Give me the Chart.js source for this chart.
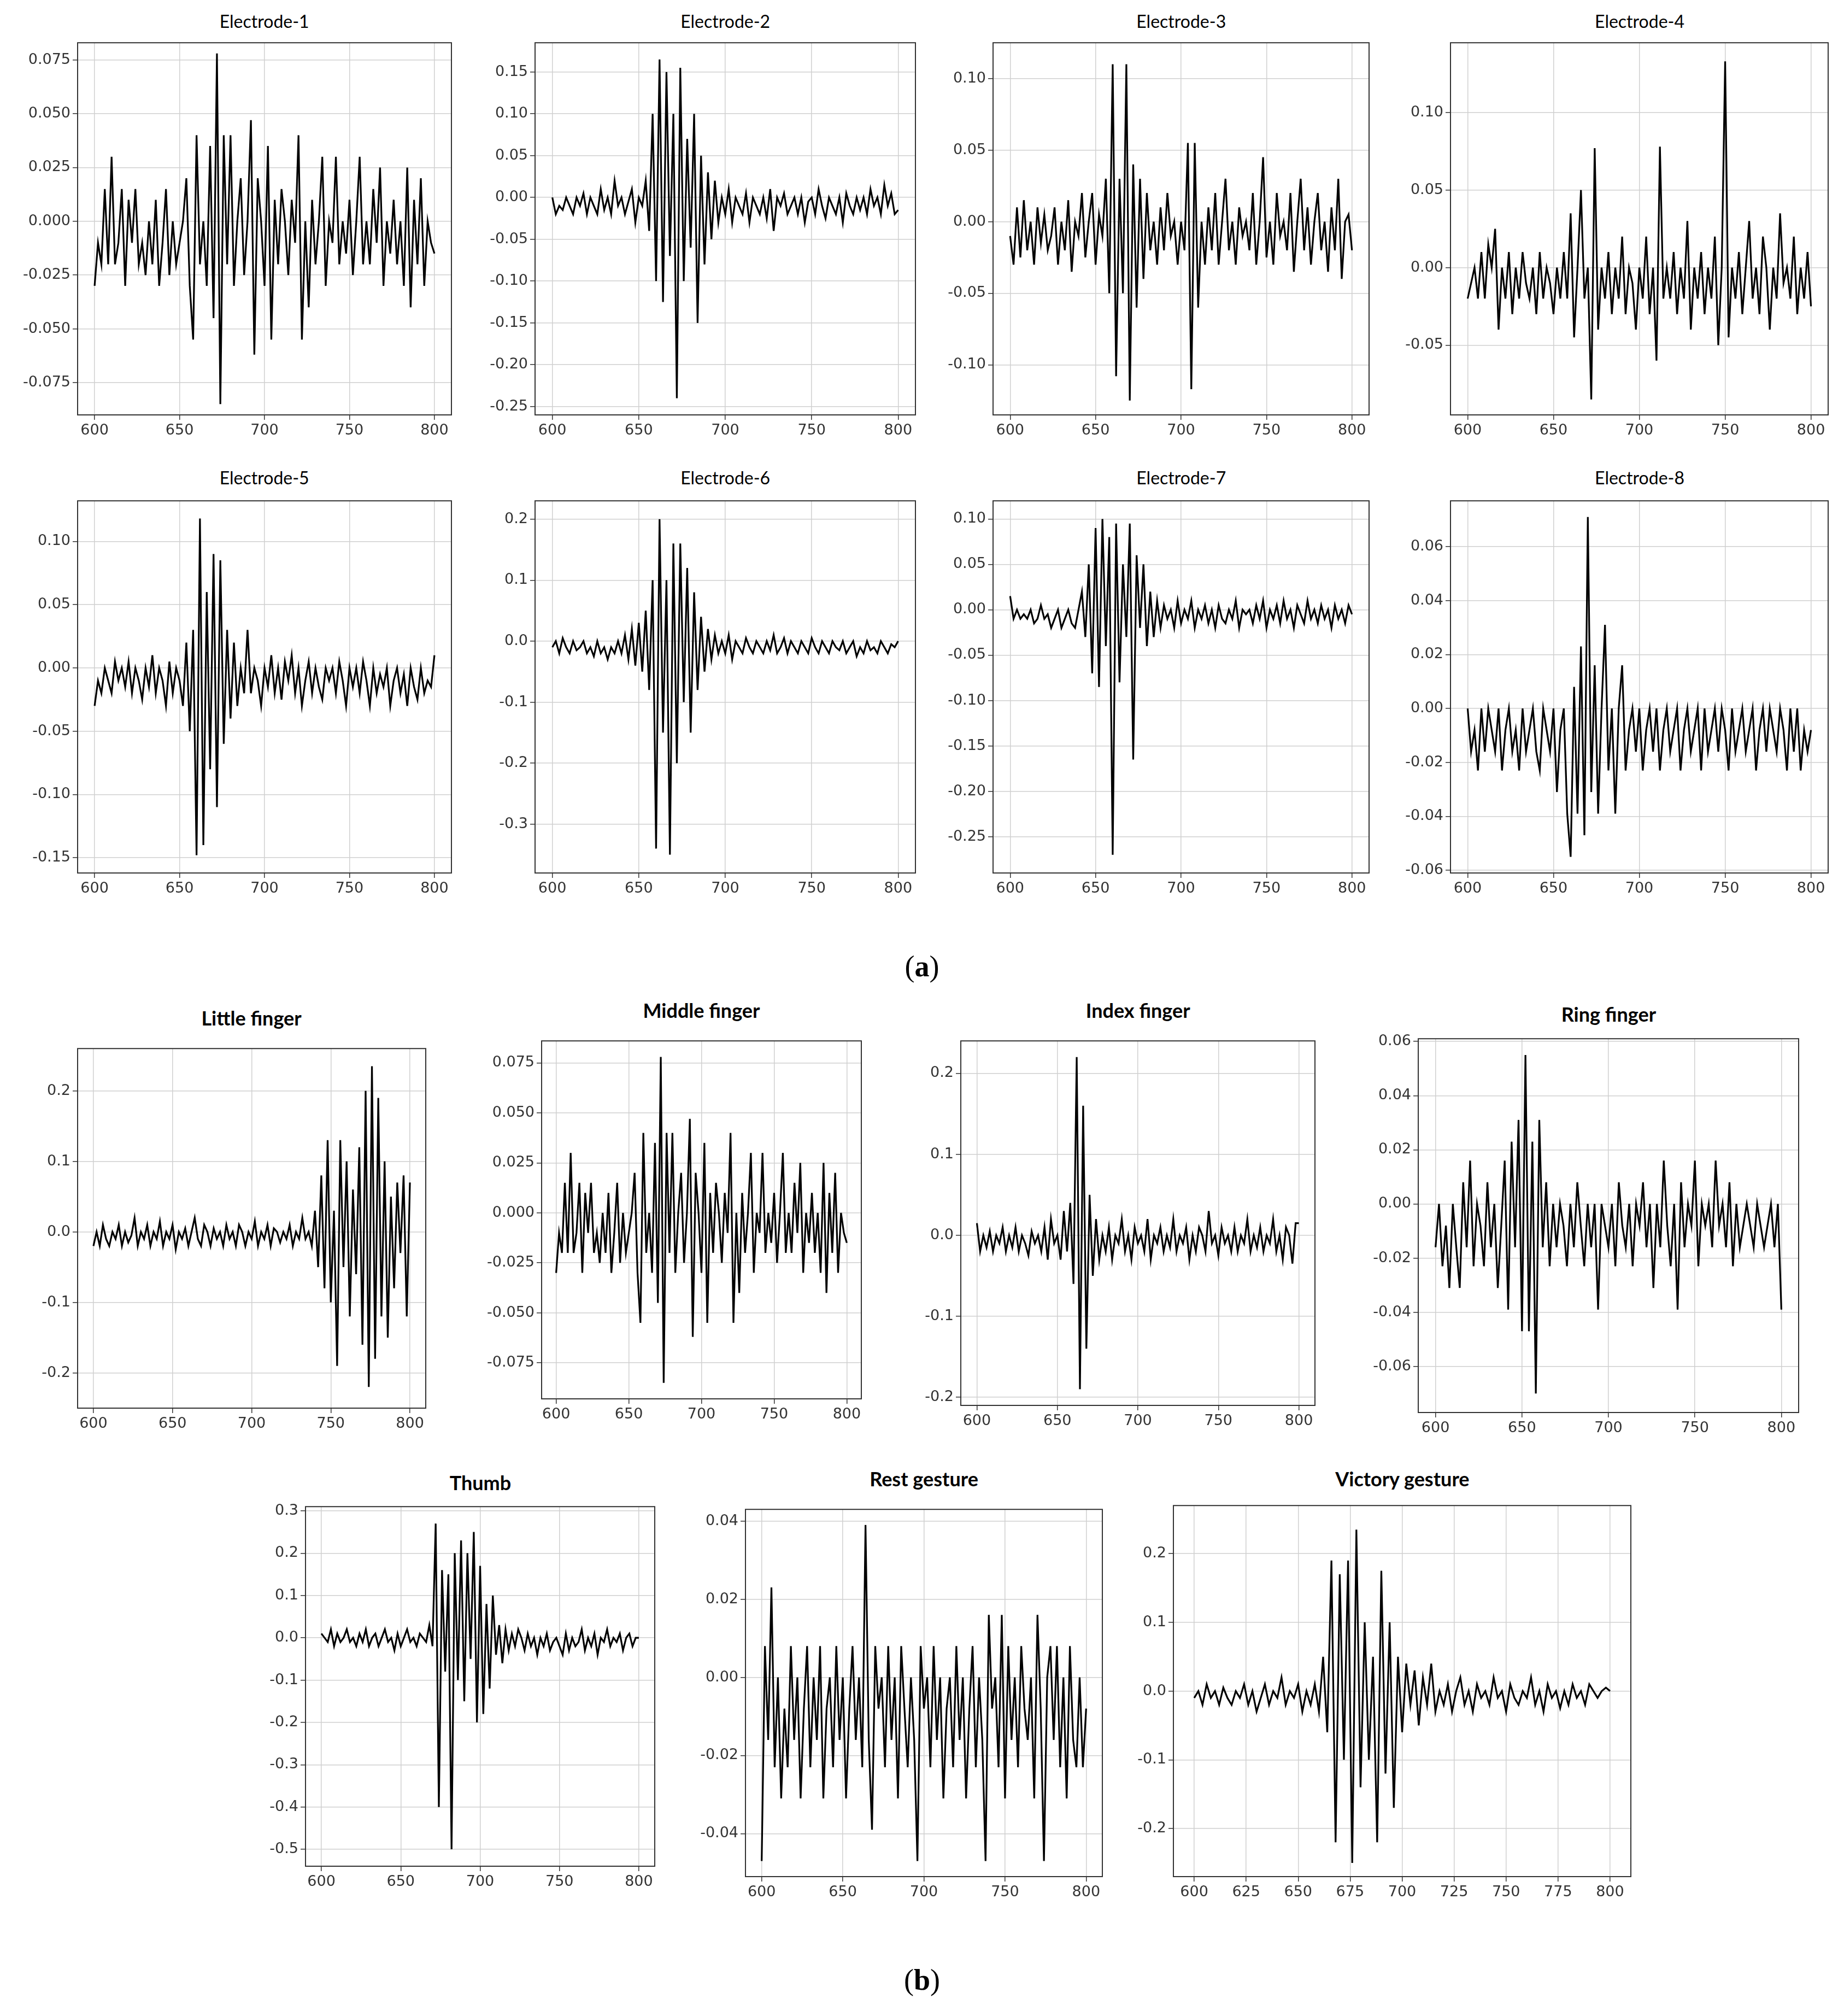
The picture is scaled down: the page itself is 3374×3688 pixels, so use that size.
<!DOCTYPE html>
<html><head><meta charset="utf-8">
<script src="https://cdn.jsdelivr.net/npm/chart.js@4/dist/chart.umd.min.js"></script>
<style>
body{margin:0;background:#fff;width:3374px;height:3688px;position:relative;overflow:hidden}
.box{position:absolute}
.t{position:absolute;transform:translateX(-50%);white-space:nowrap;color:#000}
.lab{position:absolute;transform:translateX(-50%);font-family:"Liberation Serif",serif;font-size:54px}
</style></head><body>
<script>
// ---- data (values sampled uniformly from x=600 to x=800) ----
const electrode1=[-0.03,-0.01,-0.02,0.015,-0.02,0.03,-0.02,-0.01,0.015,-0.03,0.01,-0.01,0.015,-0.02,-0.01,-0.025,0.0,-0.02,0.01,-0.03,-0.01,0.015,-0.025,0.0,-0.02,-0.01,0.0,0.02,-0.03,-0.055,0.04,-0.02,0.0,-0.03,0.035,-0.045,0.078,-0.085,0.04,-0.02,0.04,-0.03,0.0,0.02,-0.025,0.0,0.047,-0.062,0.02,0.0,-0.03,0.035,-0.055,0.01,-0.02,0.015,0.0,-0.025,0.01,-0.01,0.04,-0.055,0.0,-0.04,0.01,-0.02,0.0,0.03,-0.03,0.0,-0.01,0.03,-0.02,0.0,-0.015,0.01,-0.025,0.0,0.03,-0.02,0.0,-0.02,0.015,-0.01,0.025,-0.03,0.0,-0.015,0.01,-0.02,0.0,-0.03,0.025,-0.04,0.01,-0.02,0.02,-0.03,0.0,-0.01,-0.015];
const electrode2=[0.0,-0.02,-0.01,-0.015,0.0,-0.01,-0.02,0.0,-0.01,0.005,-0.02,0.0,-0.01,-0.02,0.01,-0.015,0.0,-0.02,0.02,-0.01,0.0,-0.02,-0.005,0.01,-0.03,0.0,-0.01,0.02,-0.04,0.1,-0.1,0.165,-0.125,0.15,-0.07,0.1,-0.24,0.155,-0.1,0.07,-0.06,0.1,-0.15,0.05,-0.08,0.03,-0.05,0.02,-0.03,0.0,-0.02,0.01,-0.03,0.0,-0.01,-0.02,0.005,-0.03,0.0,-0.01,-0.02,0.0,-0.025,0.01,-0.04,0.0,-0.01,0.005,-0.02,-0.01,0.0,-0.02,0.0,-0.03,-0.005,0.0,-0.02,0.01,-0.01,-0.025,0.0,-0.01,-0.02,0.0,-0.03,0.005,-0.01,-0.02,0.0,-0.015,0.0,-0.02,0.01,-0.01,0.0,-0.02,0.015,-0.01,0.005,-0.02,-0.015];
const electrode3=[-0.01,-0.03,0.01,-0.025,0.015,-0.02,0.0,-0.03,0.01,-0.015,0.005,-0.02,-0.01,0.01,-0.03,0.0,-0.02,0.015,-0.035,0.0,-0.01,0.02,-0.025,0.0,0.02,-0.03,0.005,-0.01,0.03,-0.05,0.11,-0.108,0.03,-0.05,0.11,-0.125,0.04,-0.06,0.03,-0.04,0.02,-0.02,0.0,-0.03,0.01,-0.02,0.02,-0.01,0.0,-0.03,0.0,-0.02,0.055,-0.117,0.055,-0.06,0.0,-0.03,0.01,-0.02,0.02,-0.03,0.0,0.03,-0.02,0.0,-0.03,0.01,-0.01,0.0,-0.02,0.02,-0.03,0.0,0.045,-0.025,0.0,-0.03,0.02,-0.01,0.0,-0.02,0.02,-0.035,0.0,0.03,-0.02,0.01,-0.03,0.0,0.02,-0.02,0.0,-0.035,0.01,-0.02,0.03,-0.04,0.0,0.005,-0.02];
const electrode4=[-0.02,-0.01,0.0,-0.02,0.01,-0.02,0.015,0.0,0.025,-0.04,0.0,-0.02,0.01,-0.03,0.0,-0.02,0.01,-0.01,-0.02,0.0,-0.03,0.01,-0.02,0.0,-0.01,-0.03,0.0,-0.02,0.01,-0.02,0.035,-0.045,0.0,0.05,-0.02,0.0,-0.085,0.077,-0.04,0.0,-0.02,0.01,-0.03,0.0,-0.02,0.02,-0.03,0.0,-0.01,-0.04,0.0,-0.02,0.02,-0.03,0.0,-0.06,0.078,-0.02,0.0,-0.02,0.01,-0.03,0.0,-0.02,0.03,-0.04,0.0,-0.02,0.01,-0.03,0.0,-0.02,0.02,-0.05,0.0,0.133,-0.045,0.0,-0.02,0.01,-0.03,0.0,0.03,-0.02,0.0,-0.03,0.02,0.0,-0.04,0.0,-0.02,0.035,-0.01,0.0,-0.02,0.02,-0.03,0.0,-0.02,0.01,-0.025];
const electrode5=[-0.03,-0.01,-0.02,0.0,-0.01,-0.02,0.005,-0.01,0.0,-0.015,0.005,-0.02,0.0,-0.01,-0.025,0.0,-0.015,0.01,-0.02,0.0,-0.01,-0.03,0.005,-0.02,0.0,-0.01,-0.03,0.02,-0.05,0.03,-0.148,0.118,-0.14,0.06,-0.08,0.09,-0.11,0.085,-0.06,0.03,-0.04,0.02,-0.03,0.0,-0.02,0.03,-0.02,0.0,-0.01,-0.03,0.0,-0.015,0.01,-0.02,0.0,-0.025,0.005,-0.01,0.01,-0.02,0.0,-0.03,-0.01,0.005,-0.02,0.0,-0.015,-0.025,0.0,-0.01,0.0,-0.02,0.005,-0.01,-0.03,0.0,-0.015,0.0,-0.02,0.005,-0.01,-0.03,0.0,-0.02,-0.005,-0.015,0.0,-0.03,-0.01,0.0,-0.02,-0.005,-0.03,0.0,-0.015,-0.025,0.0,-0.02,-0.01,-0.015,0.01];
const electrode6=[-0.01,0.0,-0.02,0.005,-0.01,-0.02,0.0,-0.015,-0.01,0.0,-0.02,-0.01,-0.025,0.0,-0.02,-0.01,-0.03,-0.01,-0.02,0.0,-0.02,0.01,-0.03,0.02,-0.04,0.03,-0.05,0.05,-0.08,0.1,-0.34,0.2,-0.15,0.1,-0.35,0.16,-0.2,0.16,-0.1,0.12,-0.15,0.08,-0.08,0.04,-0.05,0.02,-0.03,0.01,-0.02,0.0,-0.02,0.01,-0.03,0.0,-0.01,-0.02,0.005,-0.01,-0.02,0.0,-0.01,-0.02,0.0,-0.015,0.01,-0.02,-0.01,0.005,-0.02,0.0,-0.01,-0.02,0.0,-0.01,-0.02,0.005,-0.01,-0.02,0.0,-0.01,-0.02,0.0,-0.01,-0.015,0.0,-0.02,-0.01,0.0,-0.025,-0.01,-0.02,0.0,-0.015,-0.01,-0.02,0.0,-0.01,-0.02,-0.005,-0.01,0.0];
const electrode7=[0.015,-0.01,0.0,-0.01,-0.005,-0.01,0.0,-0.015,-0.01,0.005,-0.01,-0.005,-0.02,-0.01,0.0,-0.02,-0.01,0.0,-0.015,-0.02,0.0,0.02,-0.03,0.05,-0.07,0.09,-0.085,0.1,-0.04,0.08,-0.27,0.095,-0.08,0.05,-0.03,0.095,-0.165,0.06,-0.02,0.05,-0.04,0.02,-0.03,0.01,-0.02,0.005,-0.01,0.0,-0.02,0.01,-0.015,0.0,-0.01,0.01,-0.02,0.0,-0.01,0.005,-0.015,0.0,-0.02,0.005,-0.01,-0.015,0.0,-0.01,0.01,-0.02,0.0,-0.005,0.0,-0.015,0.005,-0.01,0.01,-0.02,0.0,-0.01,0.005,-0.015,0.01,-0.01,0.0,-0.02,0.005,-0.005,-0.015,0.01,-0.01,0.0,-0.015,0.005,-0.01,0.0,-0.02,0.005,-0.01,0.0,-0.015,0.005,-0.005];
const electrode8=[0.0,-0.016,-0.008,-0.023,0.0,-0.016,0.0,-0.008,-0.016,0.0,-0.023,-0.008,0.0,-0.016,-0.008,-0.023,0.0,-0.016,-0.008,0.0,-0.016,-0.023,0.0,-0.008,-0.016,0.0,-0.031,-0.008,0.0,-0.039,-0.055,0.008,-0.039,0.023,-0.047,0.071,-0.031,0.016,-0.039,0.0,0.031,-0.023,0.0,-0.039,0.0,0.016,-0.023,-0.008,0.0,-0.016,0.0,-0.023,-0.008,0.0,-0.016,0.0,-0.023,-0.008,0.0,-0.016,-0.008,0.0,-0.023,-0.008,0.0,-0.016,-0.008,0.0,-0.023,0.0,-0.016,-0.008,0.0,-0.016,0.0,-0.008,-0.023,0.0,-0.016,-0.008,0.0,-0.016,-0.008,0.0,-0.023,-0.008,0.0,-0.016,0.0,-0.008,-0.016,0.0,-0.008,-0.023,0.0,-0.016,0.0,-0.023,-0.008,-0.016,-0.008];
const littleFinger=[-0.02,0.0,-0.02,0.01,-0.01,-0.02,0.0,-0.01,0.01,-0.02,0.0,-0.015,-0.005,0.02,-0.02,0.0,-0.01,0.01,-0.02,0.0,-0.01,0.015,-0.02,0.0,-0.01,0.01,-0.025,0.0,-0.01,0.005,-0.02,0.0,0.02,-0.01,-0.02,0.01,0.0,-0.02,0.005,-0.01,0.0,-0.02,0.01,-0.01,0.0,-0.02,0.01,0.0,-0.02,0.0,-0.01,0.015,-0.02,0.0,-0.01,0.01,-0.02,0.005,0.0,-0.015,0.0,-0.01,0.01,-0.02,0.0,-0.01,0.02,-0.01,0.0,-0.02,0.03,-0.05,0.08,-0.08,0.13,-0.1,0.03,-0.19,0.13,-0.05,0.1,-0.12,0.06,-0.06,0.12,-0.16,0.2,-0.22,0.235,-0.18,0.19,-0.12,0.1,-0.15,0.05,-0.08,0.07,-0.03,0.08,-0.12,0.07];
const middleFinger=[-0.03,-0.01,-0.02,0.015,-0.02,0.03,-0.02,-0.01,0.015,-0.03,0.01,-0.01,0.015,-0.02,-0.01,-0.025,0.0,-0.02,0.01,-0.03,-0.01,0.015,-0.025,0.0,-0.02,-0.01,0.0,0.02,-0.03,-0.055,0.04,-0.02,0.0,-0.03,0.035,-0.045,0.078,-0.085,0.04,-0.02,0.04,-0.03,0.0,0.02,-0.025,0.0,0.047,-0.062,0.02,0.0,-0.03,0.035,-0.055,0.01,-0.02,0.015,0.0,-0.025,0.01,-0.01,0.04,-0.055,0.0,-0.04,0.01,-0.02,0.0,0.03,-0.03,0.0,-0.01,0.03,-0.02,0.0,-0.015,0.01,-0.025,0.0,0.03,-0.02,0.0,-0.02,0.015,-0.01,0.025,-0.03,0.0,-0.015,0.01,-0.02,0.0,-0.03,0.025,-0.04,0.01,-0.02,0.02,-0.03,0.0,-0.01,-0.015];
const indexFinger=[0.015,-0.02,0.0,-0.015,0.005,-0.02,0.0,-0.01,0.01,-0.02,0.0,-0.015,0.01,-0.02,0.0,-0.01,-0.025,0.005,-0.01,0.0,-0.02,0.01,-0.03,0.02,-0.01,0.0,-0.03,0.03,-0.02,0.04,-0.06,0.22,-0.19,0.16,-0.14,0.05,-0.05,0.02,-0.03,0.0,-0.02,0.01,-0.03,0.0,-0.01,0.02,-0.02,0.0,-0.03,0.01,-0.01,0.0,-0.02,0.02,-0.03,0.0,-0.01,0.01,-0.02,0.0,-0.015,0.02,-0.02,0.0,-0.01,0.01,-0.03,0.0,-0.02,0.01,0.0,-0.02,0.03,-0.01,0.0,-0.025,0.01,-0.01,0.0,-0.02,0.01,-0.02,0.0,-0.01,0.02,-0.02,0.0,-0.015,0.01,-0.02,0.0,-0.01,0.02,-0.02,0.0,-0.03,0.01,0.0,-0.035,0.015,0.015];
const ringFinger=[-0.016,0.0,-0.023,-0.008,-0.031,0.0,-0.016,-0.031,0.008,-0.016,0.016,-0.023,0.0,-0.008,-0.023,0.008,-0.016,0.0,-0.031,-0.008,0.016,-0.039,0.023,-0.016,0.031,-0.047,0.055,-0.047,0.023,-0.07,0.031,-0.016,0.008,-0.023,0.0,-0.016,0.0,-0.008,-0.023,0.0,-0.016,0.008,-0.008,-0.023,0.0,-0.016,0.0,-0.039,0.0,-0.008,-0.016,0.0,-0.023,0.008,-0.008,-0.016,0.0,-0.023,0.0,-0.008,0.008,-0.016,0.0,-0.031,0.0,-0.016,0.016,-0.008,-0.023,0.0,-0.039,0.008,-0.016,0.0,-0.008,0.016,-0.023,0.0,-0.008,0.0,-0.016,0.016,-0.008,0.0,-0.016,0.008,-0.023,0.0,-0.016,-0.008,0.0,-0.008,-0.016,0.0,-0.008,-0.016,-0.008,0.0,-0.016,0.0,-0.039];
const thumb=[0.01,0.0,-0.01,0.02,-0.02,0.01,-0.01,0.0,0.02,-0.01,0.0,-0.02,0.01,-0.01,0.02,-0.02,0.0,0.01,-0.02,0.0,0.02,-0.01,0.0,-0.03,0.01,-0.02,0.0,0.02,-0.01,0.0,-0.02,0.01,0.0,-0.01,0.03,-0.02,0.27,-0.4,0.16,-0.08,0.15,-0.5,0.2,-0.1,0.23,-0.15,0.2,-0.05,0.25,-0.2,0.17,-0.18,0.08,-0.12,0.1,-0.04,0.03,-0.06,0.02,-0.03,0.01,-0.02,0.02,0.0,-0.03,0.01,-0.02,0.0,-0.04,0.0,-0.02,0.01,-0.03,-0.01,0.0,-0.02,-0.04,0.01,-0.03,0.0,-0.02,-0.01,0.02,-0.03,0.0,-0.02,0.01,-0.04,0.0,-0.01,0.02,-0.02,0.0,-0.01,0.01,-0.03,0.0,0.01,-0.02,0.0,0.0];
const restGesture=[-0.047,0.008,-0.016,0.023,-0.023,0.0,-0.031,-0.008,-0.023,0.008,-0.016,0.0,-0.031,-0.008,0.008,-0.023,0.0,-0.016,0.008,-0.031,-0.008,0.0,-0.023,0.008,-0.016,0.0,-0.031,-0.008,0.008,-0.016,0.0,-0.023,0.039,-0.016,-0.039,0.008,-0.008,0.0,-0.023,0.008,-0.016,0.0,-0.031,0.008,-0.008,-0.023,0.0,-0.016,-0.047,0.008,-0.008,0.0,-0.023,0.008,-0.016,0.0,-0.031,-0.008,0.0,-0.023,0.008,-0.016,0.0,-0.031,-0.008,0.008,-0.023,0.0,-0.016,-0.047,0.016,-0.008,0.0,-0.023,0.016,-0.031,0.008,-0.016,0.0,-0.023,0.008,-0.008,-0.016,0.0,-0.031,0.016,-0.008,-0.047,0.0,0.008,-0.016,0.008,-0.023,0.0,-0.031,0.008,-0.016,-0.023,0.0,-0.023,-0.008];
const victoryGesture=[-0.01,0.0,-0.02,0.01,-0.01,0.0,-0.02,0.005,-0.01,-0.02,0.0,-0.01,0.01,-0.02,0.0,-0.03,-0.01,0.01,-0.02,0.0,-0.01,0.02,-0.02,0.0,-0.01,0.01,-0.03,0.0,-0.02,0.01,-0.03,0.05,-0.06,0.19,-0.22,0.17,-0.1,0.19,-0.25,0.235,-0.14,0.1,-0.1,0.05,-0.22,0.175,-0.12,0.1,-0.17,0.05,-0.06,0.04,-0.02,0.03,-0.05,0.02,-0.02,0.04,-0.03,0.0,-0.02,0.01,-0.03,0.0,0.02,-0.02,0.0,-0.03,0.01,-0.01,0.0,-0.02,0.02,-0.01,0.0,-0.03,0.01,-0.01,-0.02,0.0,-0.01,0.02,-0.02,0.0,-0.03,0.01,-0.01,0.0,-0.025,0.0,-0.02,0.01,-0.01,0.0,-0.02,0.01,0.0,-0.01,0.0,0.005,0.0];

// y tick labels per chart
const ticksE1=[-0.075,-0.05,-0.025,0,0.025,0.05,0.075];
const ticksE2=[-0.25,-0.2,-0.15,-0.1,-0.05,0,0.05,0.1,0.15];
const ticksE3=[-0.1,-0.05,0,0.05,0.1];
const ticksE4=[-0.05,0,0.05,0.1];
const ticksE5=[-0.15,-0.1,-0.05,0,0.05,0.1];
const ticksE6=[-0.3,-0.2,-0.1,0,0.1,0.2];
const ticksE7=[-0.25,-0.2,-0.15,-0.1,-0.05,0,0.05,0.1];
const ticksE8=[-0.06,-0.04,-0.02,0,0.02,0.04,0.06];
const ticksLittle=[-0.2,-0.1,0,0.1,0.2];
const ticksIndex=[-0.2,-0.1,0,0.1,0.2];
const ticksRing=[-0.06,-0.04,-0.02,0,0.02,0.04,0.06];
const ticksThumb=[-0.5,-0.4,-0.3,-0.2,-0.1,0,0.1,0.2,0.3];
const ticksRest=[-0.04,-0.02,0,0.02,0.04];
const ticksVictory=[-0.2,-0.1,0,0.1,0.2];
const xTicks=[600,650,700,750,800];
const xTicksVictory=[600,625,650,675,700,725,750,775,800];

// ---- layout (reference display units, scaled) ----
const S=3374/1430;
const panels=[
 {title:"Electrode-1",data:electrode1,yt:ticksE1,dec:3,ymin:-0.09,ymax:0.083,box:[60,28,350,322],ty:8,bold:false},
 {title:"Electrode-2",data:electrode2,yt:ticksE2,dec:2,ymin:-0.26,ymax:0.185,box:[415,28,710,322],ty:8,bold:false},
 {title:"Electrode-3",data:electrode3,yt:ticksE3,dec:2,ymin:-0.135,ymax:0.125,box:[770,28,1062,322],ty:8,bold:false},
 {title:"Electrode-4",data:electrode4,yt:ticksE4,dec:2,ymin:-0.095,ymax:0.145,box:[1125,28,1418,322],ty:8,bold:false},
 {title:"Electrode-5",data:electrode5,yt:ticksE5,dec:2,ymin:-0.162,ymax:0.132,box:[60,383,350,677],ty:362,bold:false},
 {title:"Electrode-6",data:electrode6,yt:ticksE6,dec:1,ymin:-0.38,ymax:0.23,box:[415,383,710,677],ty:362,bold:false},
 {title:"Electrode-7",data:electrode7,yt:ticksE7,dec:2,ymin:-0.29,ymax:0.12,box:[770,383,1062,677],ty:362,bold:false},
 {title:"Electrode-8",data:electrode8,yt:ticksE8,dec:2,ymin:-0.061,ymax:0.077,box:[1125,383,1418,677],ty:362,bold:false},
 {title:"Little finger",data:littleFinger,yt:ticksLittle,dec:1,ymin:-0.25,ymax:0.26,box:[60,808,330,1092],ty:780,bold:true},
 {title:"Middle finger",data:middleFinger,yt:ticksE1,dec:3,ymin:-0.093,ymax:0.086,box:[420,802,668,1085],ty:774,bold:true},
 {title:"Index finger",data:indexFinger,yt:ticksIndex,dec:1,ymin:-0.21,ymax:0.24,box:[745,802,1020,1090],ty:774,bold:true},
 {title:"Ring finger",data:ringFinger,yt:ticksRing,dec:2,ymin:-0.077,ymax:0.061,box:[1100,800,1395,1095],ty:777,bold:true},
 {title:"Thumb",data:thumb,yt:ticksThumb,dec:1,ymin:-0.54,ymax:0.31,box:[237,1163,508,1447],ty:1140,bold:true},
 {title:"Rest gesture",data:restGesture,yt:ticksRest,dec:2,ymin:-0.051,ymax:0.043,box:[578,1165,855,1455],ty:1137,bold:true},
 {title:"Victory gesture",data:victoryGesture,yt:ticksVictory,dec:1,ymin:-0.27,ymax:0.27,box:[910,1162,1265,1455],ty:1137,bold:true,xt:xTicksVictory},
];
const YW=130, XH=62, PAD=8;
const frame={id:'frame',afterDraw(c){const a=c.chartArea,x=c.ctx;x.save();x.strokeStyle='#333';x.lineWidth=2;x.strokeRect(a.left,a.top,a.right-a.left,a.bottom-a.top);x.restore();}};
panels.forEach(p=>{
  const [l,t,r,b]=p.box.map(v=>v*S);
  const d=document.createElement('div');d.className='box';
  d.style.left=(l-YW)+'px';d.style.top=(t-PAD)+'px';
  const w=(r-l)+YW+PAD,h=(b-t)+XH+PAD;
  d.style.width=w+'px';d.style.height=h+'px';
  const cv=document.createElement('canvas');cv.width=w;cv.height=h;d.appendChild(cv);document.body.appendChild(d);
  const tt=document.createElement('div');tt.className='t';tt.textContent=p.title;
  tt.style.left=((l+r)/2)+'px';tt.style.top=(p.ty*S)+'px';
  tt.style.font=(p.bold?'bold 36px':'32px')+' Lato, "Open Sans", sans-serif';
  document.body.appendChild(tt);
  const n=p.data.length;
  const pts=p.data.map((v,i)=>({x:600+i*200/(n-1),y:v}));
  const xt=p.xt||xTicks;
  new Chart(cv,{type:'line',data:{datasets:[{data:pts,borderColor:'#000',borderWidth:3.2,pointRadius:0,tension:0,fill:false}]},
   options:{responsive:false,animation:false,devicePixelRatio:1,layout:{padding:{top:PAD,right:PAD,left:0,bottom:0}},
    plugins:{legend:{display:false},tooltip:{enabled:false}},
    scales:{
     x:{type:'linear',min:590,max:810,afterBuildTicks:s=>{s.ticks=xt.map(v=>({value:v}));},afterFit:s=>{s.height=XH;},
        grid:{color:'#d0d0d0',lineWidth:1.5,tickLength:9,tickColor:'#333'},border:{display:false},
        ticks:{color:'#333',font:{size:27,family:'"DejaVu Sans"'},maxRotation:0,padding:4,callback:v=>String(v)}},
     y:{min:p.ymin,max:p.ymax,afterBuildTicks:s=>{s.ticks=p.yt.map(v=>({value:v}));},afterFit:s=>{s.width=YW;},
        grid:{color:'#d0d0d0',lineWidth:1.5,tickLength:9,tickColor:'#333'},border:{display:false},
        ticks:{color:'#333',font:{size:27,family:'"DejaVu Sans"'},padding:4,callback:v=>Number(v).toFixed(p.dec)}}
    }},plugins:[frame]});
});
[["(a)",715,736],["(b)",715,1522]].forEach(([s,x,y])=>{const e=document.createElement('div');e.className='lab';e.innerHTML='(<b>'+s[1]+'</b>)';e.style.left=(x*S)+'px';e.style.top=(y*S)+'px';document.body.appendChild(e);});
</script></body></html>
